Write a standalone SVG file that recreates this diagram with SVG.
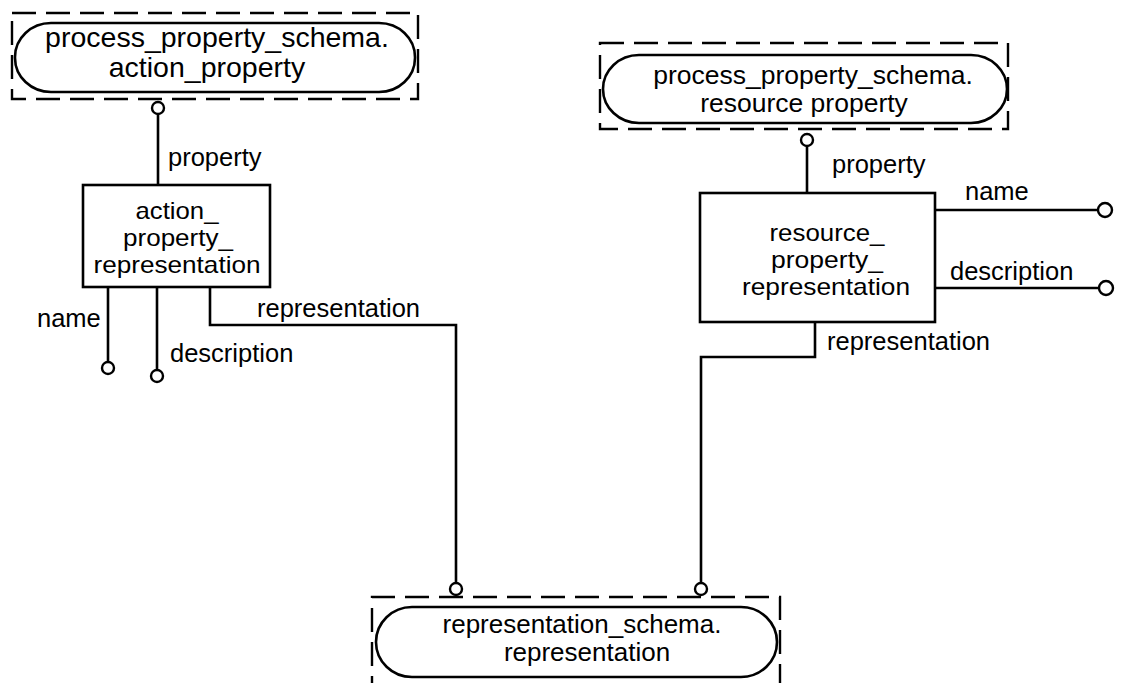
<svg xmlns="http://www.w3.org/2000/svg" width="1122" height="683" viewBox="0 0 1122 683">
<style>
.bg{fill:#fff}
.dash{fill:none;stroke:#000;stroke-width:2.4;stroke-dasharray:24 10}
.oval{fill:#fff;stroke:#000;stroke-width:2.6}
.box{fill:#fff;stroke:#000;stroke-width:2.6}
.ln{fill:none;stroke:#000;stroke-width:2.6}
.ring{fill:#fff;stroke:#000;stroke-width:2.4}
text{font-family:"Liberation Sans",Arial,sans-serif;fill:#000}
.nt{font-size:26px;text-anchor:middle}
.bt{font-size:24px;text-anchor:middle}
.lb{font-size:25.5px}
</style>
<rect class="bg" x="0" y="0" width="1122" height="683"/>

<g id="action_property">
<rect class="dash" x="12" y="13" width="406" height="86"/>
<rect class="oval" x="15" y="23" width="400" height="69" rx="36" ry="34"/>
<text class="nt" style="font-size:28.5px" x="217" y="47">process_property_schema.</text>
<text class="nt" style="font-size:28.5px" x="207" y="77">action_property</text>
</g>

<g id="resource_property">
<rect class="dash" x="600" y="43" width="408" height="86"/>
<rect class="oval" x="603" y="55" width="404" height="68" rx="36" ry="34"/>
<text class="nt" style="font-size:26.5px" x="813" y="84">process_property_schema.</text>
<text class="nt" style="font-size:26.5px" x="804" y="112">resource property</text>
</g>

<g id="representation">
<path class="dash" d="M372,700 V597 H780 V700"/>
<rect class="oval" x="376" y="607" width="401" height="70" rx="36" ry="35"/>
<text class="nt" style="font-size:26px" x="582" y="633">representation_schema.</text>
<text class="nt" style="font-size:26px" x="587" y="661">representation</text>
</g>

<g id="action_property_representation">
<rect class="box" x="83" y="185" width="187" height="102"/>
<text class="bt" x="177" y="219" textLength="83" lengthAdjust="spacingAndGlyphs">action_</text>
<text class="bt" x="178" y="246" textLength="110" lengthAdjust="spacingAndGlyphs">property_</text>
<text class="bt" x="177" y="273" textLength="167" lengthAdjust="spacingAndGlyphs">representation</text>
</g>

<g id="resource_property_representation">
<rect class="box" x="700" y="193" width="235" height="129"/>
<text class="bt" x="827" y="241" textLength="115" lengthAdjust="spacingAndGlyphs">resource_</text>
<text class="bt" x="827" y="268" textLength="112" lengthAdjust="spacingAndGlyphs">property_</text>
<text class="bt" x="826" y="295" textLength="168" lengthAdjust="spacingAndGlyphs">representation</text>
</g>

<g id="connectors">
<line class="ln" x1="158" y1="114" x2="158" y2="185"/>
<circle class="ring" cx="158" cy="108" r="6"/>
<text class="lb" x="168" y="166">property</text>

<line class="ln" x1="108" y1="287" x2="108" y2="362"/>
<circle class="ring" cx="108" cy="368" r="6"/>
<text class="lb" x="37" y="327">name</text>

<line class="ln" x1="157" y1="287" x2="157" y2="370"/>
<circle class="ring" cx="157" cy="376" r="6"/>
<text class="lb" x="170" y="362">description</text>

<polyline class="ln" points="210,287 210,325 456,325 456,583"/>
<circle class="ring" cx="456" cy="589" r="6"/>
<text class="lb" x="257" y="317">representation</text>

<line class="ln" x1="807" y1="146" x2="807" y2="193"/>
<circle class="ring" cx="807" cy="140" r="6"/>
<text class="lb" x="832" y="173">property</text>

<line class="ln" x1="935" y1="210" x2="1098" y2="210"/>
<circle class="ring" cx="1105" cy="210" r="7"/>
<text class="lb" x="965" y="200">name</text>

<line class="ln" x1="935" y1="288" x2="1099" y2="288"/>
<circle class="ring" cx="1106" cy="288" r="7"/>
<text class="lb" x="950" y="280">description</text>

<polyline class="ln" points="815,322 815,357 701,357 701,583"/>
<circle class="ring" cx="701" cy="589" r="6"/>
<text class="lb" x="827" y="350">representation</text>
</g>
</svg>
